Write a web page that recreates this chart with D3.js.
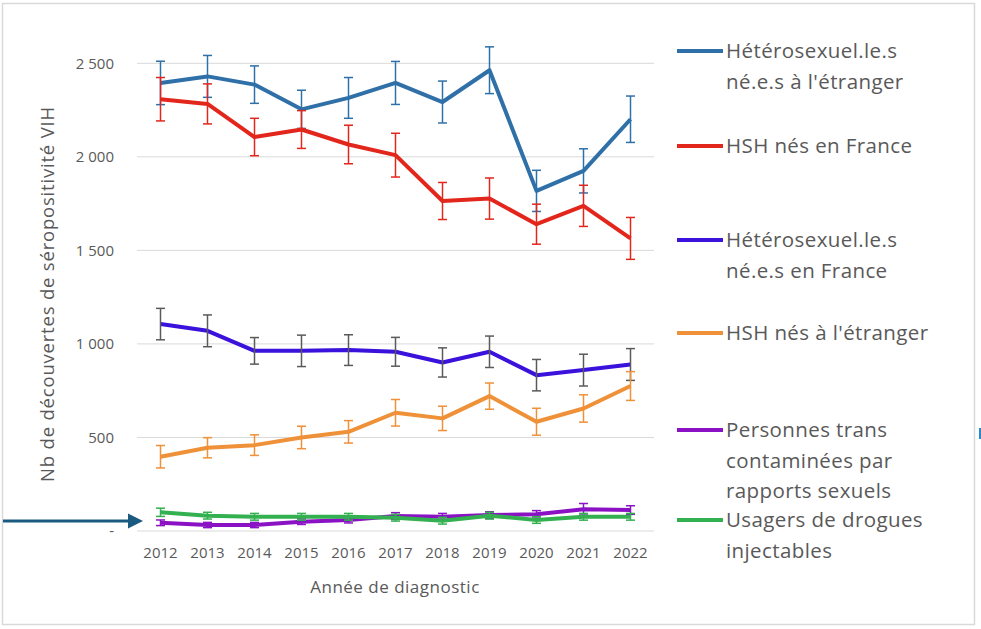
<!DOCTYPE html>
<html>
<head>
<meta charset="UTF-8">
<title>Découvertes de séropositivité VIH</title>
<script src="https://cdn.jsdelivr.net/npm/d3@7"></script>
<style>
  body { margin: 0; background: #fff; }
  svg text { font-family: "Open Sans", "Noto Sans", sans-serif; fill: #595959; }
</style>
</head>
<body>
<svg id="chart" width="981" height="629"></svg>
<script>
// années
var years = [2012, 2013, 2014, 2015, 2016, 2017, 2018, 2019, 2020, 2021, 2022];

// valeurs
var heteroEtranger = [2395, 2430, 2386, 2254, 2315, 2395, 2293, 2463, 1818, 1925, 2201];
var heteroEtrangerErr = [116, 112, 100, 102, 109, 115, 112, 125, 110, 118, 124];
var hshFrance = [2308, 2283, 2106, 2146, 2066, 2009, 1764, 1777, 1640, 1738, 1564];
var hshFranceErr = [116, 107, 100, 101, 103, 117, 99, 110, 107, 110, 112];
var heteroFrance = [1106, 1070, 963, 963, 967, 958, 901, 958, 833, 860, 890];
var heteroFranceErr = [84, 85, 71, 84, 82, 77, 78, 84, 84, 85, 85];
var hshEtranger = [397, 445, 459, 500, 530, 632, 602, 721, 584, 655, 775];
var hshEtrangerErr = [60, 54, 55, 60, 60, 71, 65, 70, 72, 73, 77];
var trans = [44, 32, 32, 50, 59, 80, 76, 85, 89, 116, 112];
var transErr = [15, 14, 14, 15, 16, 18, 18, 18, 20, 31, 23];
var udi = [100, 82, 76, 76, 76, 71, 55, 82, 59, 76, 76];
var udiErr = [22, 18, 18, 18, 18, 18, 18, 18, 18, 18, 18];

var yTicks = [0, 500, 1000, 1500, 2000, 2500];

var series = [
  { name: ["Hétérosexuel.le.s", "né.e.s à l'étranger"], values: heteroEtranger, err: heteroEtrangerErr, color: "#2f70a8", errColor: "#2f70a8", ly: 51 },
  { name: ["HSH nés en France"], values: hshFrance, err: hshFranceErr, color: "#e3261c", errColor: "#e3261c", ly: 146 },
  { name: ["Hétérosexuel.le.s", "né.e.s en France"], values: heteroFrance, err: heteroFranceErr, color: "#3a12dc", errColor: "#5a5a5a", ly: 240 },
  { name: ["HSH nés à l'étranger"], values: hshEtranger, err: hshEtrangerErr, color: "#ee9138", errColor: "#ee9138", ly: 333 },
  { name: ["Personnes trans", "contaminées par", "rapports sexuels"], values: trans, err: transErr, color: "#8a12c4", errColor: "#8a12c4", ly: 430 },
  { name: ["Usagers de drogues", "injectables"], values: udi, err: udiErr, color: "#33b04f", errColor: "#33b04f", ly: 520 }
];

var svg = d3.select("#chart");

// cadre
svg.append("rect")
  .attr("x", 2.5).attr("y", 3.5)
  .attr("width", 972).attr("height", 621)
  .attr("fill", "none").attr("stroke", "#d9d9d9").attr("stroke-width", 1.5);

var x = d3.scaleBand().domain(years).range([137, 654]);
var y = d3.scaleLinear().domain([0, 2500]).range([531, 63.3]);

// grille
svg.append("g").selectAll("line")
  .data(yTicks)
  .enter().append("line")
  .attr("x1", 137).attr("x2", 654)
  .attr("y1", function(d) { return y(d); })
  .attr("y2", function(d) { return y(d); })
  .attr("stroke", "#d9d9d9").attr("stroke-width", 1);

// axe Y
var yAxis = svg.append("g")
  .attr("transform", "translate(114,0)")
  .call(d3.axisLeft(y).tickValues(yTicks).tickSize(0).tickPadding(0)
    .tickFormat(function(d) { return d === 0 ? "-" : d3.format(",")(d).replace(",", " "); }));
yAxis.select(".domain").remove();
yAxis.selectAll("text").attr("font-size", 15).style("font-family", "'Open Sans', sans-serif")
  .attr("fill", "#595959").style("white-space", "pre");

// axe X
var xAxis = svg.append("g")
  .attr("transform", "translate(0,547)")
  .call(d3.axisBottom(x).tickSize(0).tickPadding(0));
xAxis.select(".domain").remove();
xAxis.selectAll("text").attr("font-size", 15).attr("dy", "0.71em").style("font-family", "'Open Sans', sans-serif").attr("fill", "#595959");

// titres des axes
svg.append("text")
  .attr("x", 395).attr("y", 593)
  .attr("text-anchor", "middle").attr("font-size", 17).attr("letter-spacing", 0.5)
  .text("Année de diagnostic");

svg.append("text")
  .attr("transform", "translate(54,294) rotate(-90)")
  .attr("text-anchor", "middle").attr("font-size", 18.5).attr("letter-spacing", 0.8)
  .text("Nb de découvertes de séropositivité VIH");

var line = d3.line()
  .x(function(d, i) { return x(years[i]) + x.bandwidth() / 2; })
  .y(function(d) { return y(d); });

var capW = 4.5;

series.forEach(function(s) {
  var g = svg.append("g");
  g.append("path")
    .datum(s.values)
    .attr("d", line)
    .attr("fill", "none")
    .attr("stroke", s.color)
    .attr("stroke-width", 4)
    .attr("stroke-linejoin", "round");

  var bars = g.selectAll("g.err")
    .data(s.values)
    .enter().append("g")
    .attr("class", "err")
    .attr("stroke", s.errColor)
    .attr("stroke-width", 1.5);
  bars.append("line")
    .attr("x1", function(d, i) { return x(years[i]) + x.bandwidth() / 2; })
    .attr("x2", function(d, i) { return x(years[i]) + x.bandwidth() / 2; })
    .attr("y1", function(d, i) { return y(d + s.err[i]); })
    .attr("y2", function(d, i) { return y(d - s.err[i]); });
  bars.append("line")
    .attr("x1", function(d, i) { return x(years[i]) + x.bandwidth() / 2 - capW; })
    .attr("x2", function(d, i) { return x(years[i]) + x.bandwidth() / 2 + capW; })
    .attr("y1", function(d, i) { return y(d + s.err[i]); })
    .attr("y2", function(d, i) { return y(d + s.err[i]); });
  bars.append("line")
    .attr("x1", function(d, i) { return x(years[i]) + x.bandwidth() / 2 - capW; })
    .attr("x2", function(d, i) { return x(years[i]) + x.bandwidth() / 2 + capW; })
    .attr("y1", function(d, i) { return y(d - s.err[i]); })
    .attr("y2", function(d, i) { return y(d - s.err[i]); });

  // légende
  var lg = svg.append("g");
  lg.append("line")
    .attr("x1", 677).attr("x2", 723)
    .attr("y1", s.ly).attr("y2", s.ly)
    .attr("stroke", s.color).attr("stroke-width", 4);
  lg.selectAll("text")
    .data(s.name)
    .enter().append("text")
    .attr("x", 726)
    .attr("y", function(d, i) { return s.ly + i * 30.5; })
    .attr("dy", "0.35em")
    .attr("font-size", 20.5)
    .attr("letter-spacing", 0.4)
    .text(function(d) { return d; });
});

// flèche
svg.append("defs").append("marker")
  .attr("id", "head")
  .attr("viewBox", "0 0 10 10")
  .attr("refX", 0).attr("refY", 5)
  .attr("markerWidth", 5).attr("markerHeight", 5.5)
  .attr("orient", "auto")
  .append("path").attr("d", "M0,0L10,5L0,10Z").attr("fill", "#1b5a80");
svg.append("line")
  .attr("x1", 3).attr("x2", 128)
  .attr("y1", 521).attr("y2", 521)
  .attr("stroke", "#1b5a80").attr("stroke-width", 3)
  .attr("marker-end", "url(#head)");

// petit trait bleu au bord droit
svg.append("line")
  .attr("x1", 980).attr("x2", 980)
  .attr("y1", 428).attr("y2", 439)
  .attr("stroke", "#2a8ac8").attr("stroke-width", 2);
</script>
</body>
</html>
